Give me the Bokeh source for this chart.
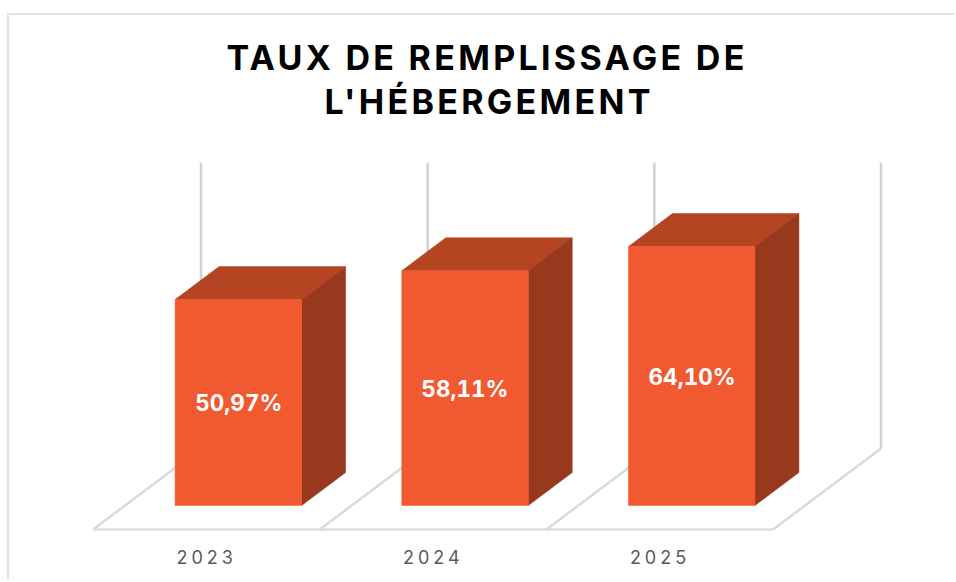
from bokeh.plotting import figure
from bokeh.embed import file_html
from bokeh.resources import INLINE
from bokeh.core.properties import value
from bokeh.io import curdoc
from bokeh.models import ColumnDataSource, CustomJS, FixedTicker, Range1d, Title

# ---- data -------------------------------------------------------------
years = ["2023", "2024", "2025"]
rates = [50.97, 58.11, 64.10]
labels = ["50,97%", "58,11%", "64,10%"]
wall_max = 70.7
title_lines = ["TAUX DE REMPLISSAGE DE", "L'HÉBERGEMENT"]

# ---- colours -----------------------------------------------------------
FRONT, TOP, SIDE = "#F15A30", "#B54423", "#98381C"
GRID = "#d2d2d2"

# ---- layout: pixels per data unit and the oblique projection -----------
W, H = 947, 567
CANVAS_X, CANVAS_Y = 9, 15       # page position of the canvas
FRAME_T, FRAME_B = 122, 531      # page pixels
PX_CAT = 226.67                  # pixels per category slot
PX_PCT = 4.04                    # pixels per percentage point
X0_PAGE, Y0_PAGE = 124.5, 505    # page position of slot 0 / 0 % on bar front plane
BAR = 126.5 / PX_CAT
DEPTH_X, DEPTH_Y = 108 / PX_CAT, 81 / PX_PCT       # full floor depth
BAR_D0, BAR_D1 = 24 / 81, 57 / 81                  # bar extent along depth
TICK_POS = 0.325                                   # label position inside a slot
TITLE_LEFT = [217, 315]                            # line starts from the canvas edge
TITLE_STANDOFF = [2, 1]
LABEL_NUDGE = [0, -5.5, -2]                        # px, tabular figures widen these labels


def proj(cat, pct, d):
    """Oblique projection of (slot, %, depth) into the data plane of the front faces."""
    return cat + (d - BAR_D0) * DEPTH_X, pct + (d - BAR_D0) * DEPTH_Y


n = len(years)
p = figure(width=W, height=H, output_backend="svg", toolbar_location=None,
           x_range=Range1d((CANVAS_X - X0_PAGE) / PX_CAT, (CANVAS_X + W - X0_PAGE) / PX_CAT),
           y_range=Range1d((Y0_PAGE - FRAME_B) / PX_PCT, (Y0_PAGE - FRAME_T) / PX_PCT),
           min_border_left=0, min_border_right=0,
           min_border_bottom=CANVAS_Y + H - FRAME_B, min_border_top=FRAME_T - CANVAS_Y,
           outline_line_color=None, background_fill_color="white",
           border_fill_color="white",
           styles={"margin-top": "13px", "margin-left": "7px",
                   "border-top": "2px solid #e2e2e2", "border-left": "2px solid #e2e2e2"})
p.grid.visible = False
p.yaxis.visible = False

# Title, one real title per line
for line, off, st in zip(reversed(title_lines), reversed(TITLE_LEFT), reversed(TITLE_STANDOFF)):
    p.add_layout(Title(text=line, align="left", text_font="Inter",
                       text_font_size="34px", text_font_style="bold",
                       text_color="#000000", offset=off, standoff=st), "above")

# Category axis
ax = p.xaxis[0]
ax.ticker = FixedTicker(ticks=[i + TICK_POS for i in range(n)])
ax.major_label_overrides = {i + TICK_POS: y for i, y in enumerate(years)}
ax.axis_line_color = None
ax.major_tick_line_color = None
ax.minor_tick_line_color = None
ax.major_label_text_font = "Inter"
ax.major_label_text_font_size = "18px"
ax.major_label_text_color = "#595959"
ax.major_label_standoff = 12

# Back walls (vertical lines)
for i in range(n + 1):
    x0, y0 = proj(i, 0, 1)
    x1, y1 = proj(i, wall_max, 1)
    p.line([x0, x1], [y0, y1], line_color=GRID, line_width=2.5)

# Floor
fx0, fy0 = proj(0, 0, 0)
fx1, _ = proj(n, 0, 0)
p.line([fx0, fx1], [fy0, fy0], line_color="#dedede", line_width=2.5)
for i in range(n + 1):
    x0, y0 = proj(i, 0, 0)
    x1, y1 = proj(i, 0, 1)
    p.line([x0, x1], [y0, y1], line_color="#dadada", line_width=2.5)

# Bars
centers = [i + 0.5 for i in range(n)]
tops_x, tops_y, sides_x, sides_y = [], [], [], []
for c, r in zip(centers, rates):
    l, rr = c - BAR / 2, c + BAR / 2
    a = proj(l, r, BAR_D0); b = proj(rr, r, BAR_D0)
    e = proj(rr, r, BAR_D1); f = proj(l, r, BAR_D1)
    tops_x.append([a[0], b[0], e[0], f[0]]); tops_y.append([a[1], b[1], e[1], f[1]])
    g = proj(rr, 0, BAR_D1); h = proj(rr, 0, BAR_D0)
    sides_x.append([b[0], e[0], g[0], h[0]]); sides_y.append([b[1], e[1], g[1], h[1]])

p.patches(tops_x, tops_y, fill_color=TOP, line_color=TOP, line_width=0.5)
p.patches(sides_x, sides_y, fill_color=SIDE, line_color=SIDE, line_width=0.5)
src = ColumnDataSource(dict(x=centers, top=rates, label=labels, nudge=LABEL_NUDGE,
                            mid=[r / 2 for r in rates]))
p.vbar(x="x", top="top", bottom=0, width=BAR, source=src, fill_color=FRONT,
       line_color=FRONT, line_width=0.5)
p.text(x="x", y="mid", text="label", x_offset="nudge", source=src, text_color="white",
       text_font=value("Inter"), text_font_style="bold",
       text_font_size="22.5px", text_align="center", text_baseline="middle")

# letter-spacing and tabular figures have no Bokeh property: set on the drawn SVG texts
spacing = CustomJS(code="""
function walk(root) {
  for (const el of root.querySelectorAll('*')) {
    if (el.shadowRoot) walk(el.shadowRoot);
    if (el.tagName && el.tagName.toLowerCase() === 'text') {
      const t = el.textContent;
      if (/^20\\d\\d$/.test(t)) el.style.letterSpacing = '4px';
      else if (/[A-Z]{3}/.test(t)) el.style.letterSpacing = '3.3px';
      else if (/%$/.test(t)) el.style.fontFeatureSettings = '"tnum"';
    }
  }
}
function go() { walk(document); }
setTimeout(go, 0); setTimeout(go, 200); setTimeout(go, 600);
""")
doc = curdoc()
doc.add_root(p)
doc.js_on_event("document_ready", spacing)

open("out.html", "w").write(file_html(p, INLINE))
